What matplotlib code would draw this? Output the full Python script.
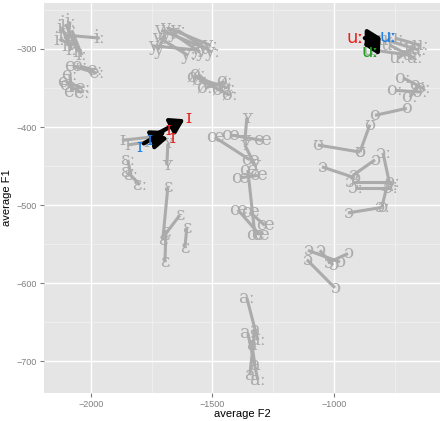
import matplotlib
matplotlib.use("Agg")
import matplotlib.pyplot as plt
from matplotlib.ticker import MultipleLocator

# gray trajectories: start (F2, F1) -> end (F2, F1), with vowel label
seg_f2_start = [-2119, -2103, -2086, -2111, -2128, -2078,
                -2074, -2045, -2103, -2086, -2095,
                -1745, -1708, -1683, -1667, -1716, -1642, -1695,
                -1572, -1551, -1531, -1560,
                -1872, -1848, -1683, -1848, -1848,
                -1683, -1634, -1605, -1691,
                -1358, -1490, -1428, -1366, -1387, -1354, -1395, -1346,
                -1358, -1325, -1354, -1337,
                -1107, -1058, -1111, -942,
                -852, -1066, -831, -1049, -798, -926, -914, -782, -803,
                -716, -749, -687, -831,
                -790, -770, -844, -749, -737]
seg_f1_start = [-273, -268, -265, -282, -288, -276,
                -322, -322, -342, -333, -346,
                -296, -276, -273, -279, -286, -276, -282,
                -336, -340, -350, -333,
                -417, -423, -421, -442, -458,
                -477, -513, -529, -535,
                -388, -413, -410, -423, -465, -455, -506, -509,
                -619, -660, -664, -679,
                -558, -558, -570, -562,
                -397, -423, -442, -451, -433, -471, -478, -476, -503,
                -337, -353, -362, -385,
                -288, -295, -301, -286, -312]
seg_f2_end = [-2078, -2053, -2095, -1963, -2070, -2037,
              -1975, -1984, -2033, -2078, -2037,
              -1572, -1531, -1510, -1551, -1601, -1502, -1724,
              -1436, -1428, -1449, -1469,
              -1757, -1770, -1687, -1835, -1798,
              -1704, -1695, -1613, -1695,
              -1366, -1346, -1296, -1325, -1313, -1325, -1305, -1284,
              -1313, -1346, -1313, -1325,
              -975, -1004, -996, -1025,
              -893, -893, -922, -914, -770, -761, -770, -803, -942,
              -634, -646, -654, -700,
              -654, -667, -687, -646, -679]
seg_f1_end = [-301, -304, -296, -286, -295, -308,
              -331, -327, -350, -355, -356,
              -301, -299, -295, -304, -308, -304, -301,
              -350, -359, -342, -353,
              -413, -419, -449, -461, -474,
              -545, -538, -555, -573,
              -417, -442, -417, -449, -462, -538, -538, -526,
              -673, -718, -724, -705,
              -573, -577, -606, -574,
              -432, -432, -462, -465, -474, -471, -478, -503, -510,
              -350, -355, -346, -376,
              -301, -312, -308, -295, -299]
seg_label = ["iː"] * 6 + ["eː"] * 5 + ["y", "yː", "yː", "y", "yː", "yː", "y"] \
    + ["øː"] * 4 + ["ɪ", "ɪ", "ʏ", "ɛː", "ɛː"] + ["ɛ"] * 4 \
    + ["ʏ", "œ", "œ", "ʏ", "œ", "œ", "œ", "œ"] + ["aː", "a", "aː", "a"] \
    + ["ɔ"] * 4 + ["ʊ", "ʊ", "ɔ", "ɔ", "ɔː", "ɔː", "ɔː", "ɔː", "ɔ"] \
    + ["oː", "oː", "oː", "o"] + ["uː"] * 5

# highlighted speaker tokens
hl_label = ["ɪ", "ɪ", "ɪ", "ɪ", "ɪ", "uː", "uː", "uː"]
hl_f2 = [-1601, -1683, -1667, -1802, -1761, -914, -778, -852]
hl_f1 = [-388, -404, -414, -426, -417, -286, -285, -304]
hl_color = ["#E8221E", "#E8221E", "#E8221E", "#1C7FE6", "#1C7FE6",
            "#E8221E", "#1C7FE6", "#20A020"]

# arrows between highlighted tokens
arr_f2_start = [-1782, -1742, -1742, -873, -832]
arr_f1_start = [-421, -411, -417, -286, -294]
arr_f2_end = [-1692, -1614, -1682, -803, -808]
arr_f1_end = [-405, -390, -414, -286, -283]

GRAY = "#ABABAB"

fig = plt.figure(figsize=(4.43, 4.21), dpi=100)
ax = fig.add_axes([0.099, 0.066, 0.894, 0.927])
ax.set_facecolor("#E5E5E5")

for x0, y0, x1, y1, lab in zip(seg_f2_start, seg_f1_start, seg_f2_end,
                               seg_f1_end, seg_label):
    ax.plot([x0, x1], [y0, y1], color=GRAY, lw=2.2, solid_capstyle="butt",
            zorder=2)
    for x, y in ((x0, y0), (x1, y1)):
        ax.text(x, y, lab, color=GRAY, fontsize=13, ha="center",
                va="center", family="DejaVu Serif", zorder=3)

for x0, y0, x1, y1 in zip(arr_f2_start, arr_f1_start, arr_f2_end, arr_f1_end):
    ax.annotate("", xy=(x1, y1), xytext=(x0, y0),
                arrowprops=dict(arrowstyle="-|>,head_length=0.8,head_width=0.5",
                                color="black", lw=3, shrinkA=0, shrinkB=0),
                zorder=4)

for x, y, lab, c in zip(hl_f2, hl_f1, hl_label, hl_color):
    fam = "DejaVu Serif" if lab == "ɪ" else "DejaVu Sans"
    ax.text(x, y, lab, color=c, fontsize=13, ha="center", va="center",
            family=fam, zorder=5)

ax.set_xlim(-2193, -564)
ax.set_ylim(-741, -241)
ax.xaxis.set_major_locator(MultipleLocator(500))
ax.xaxis.set_minor_locator(MultipleLocator(250))
ax.yaxis.set_major_locator(MultipleLocator(100))
ax.yaxis.set_minor_locator(MultipleLocator(50))
ax.grid(which="major", color="white", lw=1.0)
ax.grid(which="minor", color="#F2F2F2", lw=0.5)
ax.set_axisbelow(True)
for s in ax.spines.values():
    s.set_visible(False)
ax.tick_params(which="major", length=3, width=0.8, color="#7F7F7F",
               labelsize=6.5, labelcolor="#7F7F7F", pad=2)
ax.tick_params(which="minor", length=0)
for lab in ax.get_xticklabels() + ax.get_yticklabels():
    lab.set_family("Liberation Sans")

ax.set_xlabel("average F2", fontsize=8, family="Liberation Sans", labelpad=0)
ax.set_ylabel("average F1", fontsize=8, family="Liberation Sans", labelpad=3)

fig.savefig("out.png", dpi=100)
